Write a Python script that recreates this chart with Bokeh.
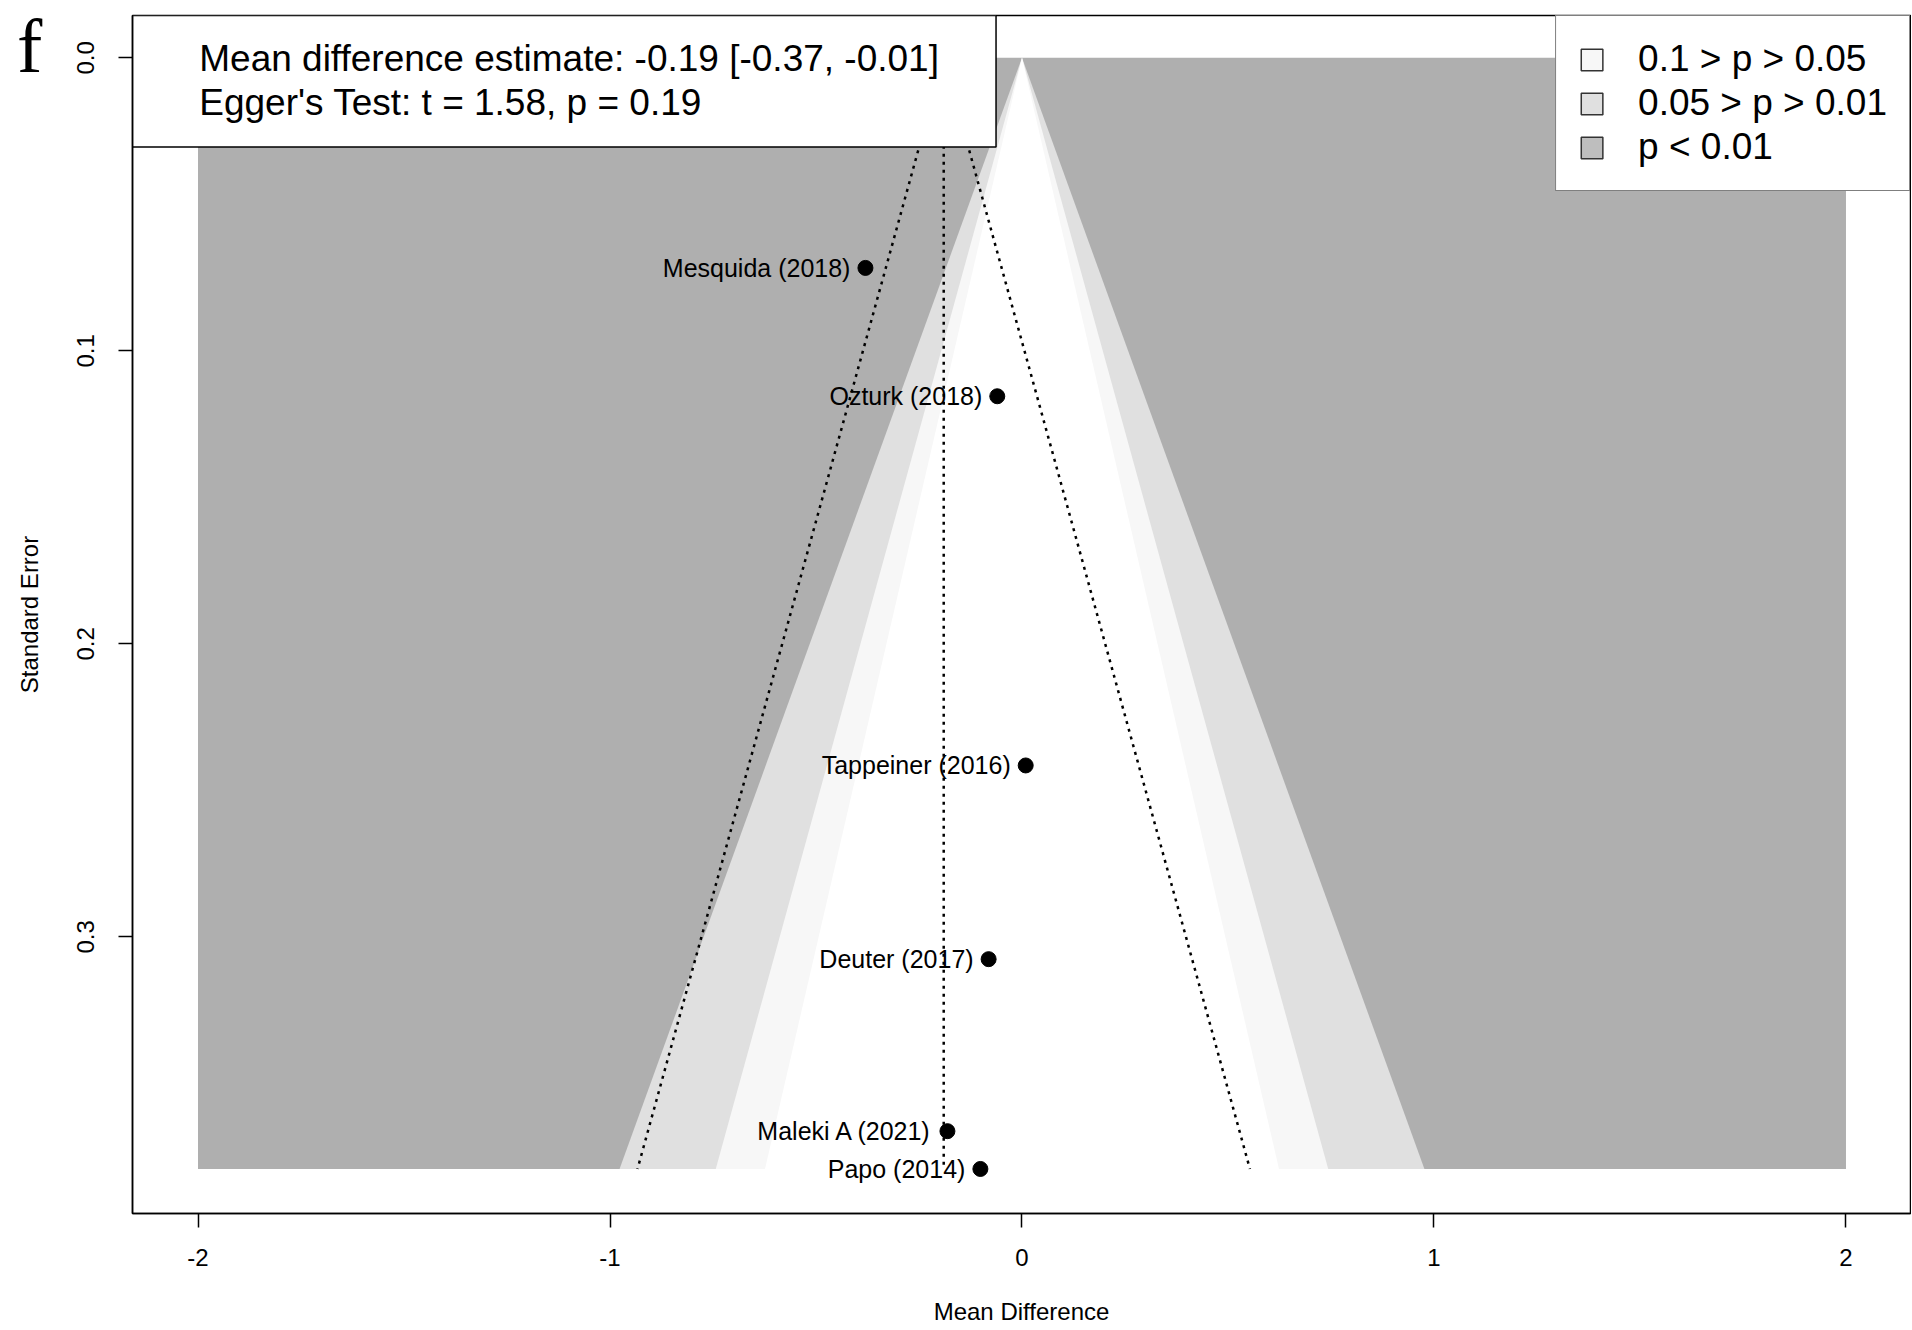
from bokeh.plotting import figure
from bokeh.models import (Range1d, FixedTicker, PrintfTickFormatter, Legend,
                          LegendItem, ColumnDataSource, Div)
from bokeh.layouts import column
from bokeh.core.properties import value
from bokeh.embed import file_html
from bokeh.resources import INLINE

# ---- data ----
studies = ["Mesquida (2018)", "Ozturk (2018)", "Tappeiner (2016)",
           "Deuter (2017)", "Maleki A (2021)", "Papo (2014)"]
mean_diff = [-0.380, -0.060, 0.009, -0.081, -0.181, -0.101]
std_err = [0.0717, 0.1155, 0.2415, 0.3076, 0.3663, 0.3792]

pooled_est = -0.19
contour_z = [2.576, 1.96, 1.645]           # p = 0.01, 0.05, 0.10
contour_fill = ["#E0E0E0", "#F7F7F7", "#FFFFFF"]
legend_labels = ["0.1 > p > 0.05", "0.05 > p > 0.01", "p < 0.01"]
legend_fill = ["#F7F7F7", "#E0E0E0", "#BEBEBE"]
x_ticks = [-2, -1, 0, 1, 2]
y_ticks = [0.0, 0.1, 0.2, 0.3]
info_lines = ["Mean difference estimate: -0.19 [-0.37, -0.01]",
              "Egger's Test: t = 1.58, p = 0.19"]
panel_letter = "f"

SANS = value("Liberation Sans")
se_max = max(std_err)
NAN = float("nan")

x0, x1 = -2.159, 2.1566
y_lo, y_hi = -0.01444, 0.3944

p = figure(width=1911, height=1330, output_backend="svg", toolbar_location=None,
           x_range=Range1d(x0, x1), y_range=Range1d(y_hi, y_lo),
           min_border_left=132, min_border_right=1, min_border_top=15,
           min_border_bottom=117)
p.xgrid.visible = False
p.ygrid.visible = False
p.outline_line_color = "black"
p.outline_line_width = 1.5
p.background_fill_color = "white"
p.border_fill_color = "white"

# axes
for ax in (p.xaxis[0], p.yaxis[0]):
    ax.major_tick_out = 14
    ax.major_tick_in = 0
    ax.minor_tick_out = 0
    ax.minor_tick_in = 0
    ax.major_tick_line_color = "black"
    ax.major_tick_line_width = 1.5
    ax.axis_line_color = "black"
    ax.axis_line_width = 1.5
    ax.major_label_text_font = "Liberation Sans"
    ax.major_label_text_font_size = "24px"
    ax.major_label_text_color = "black"
    ax.axis_label_text_font = "Liberation Sans"
    ax.axis_label_text_font_size = "24px"
    ax.axis_label_text_font_style = "normal"
    ax.axis_label_text_color = "black"

p.xaxis.ticker = FixedTicker(ticks=x_ticks)
p.xaxis.formatter = PrintfTickFormatter(format="%d")
p.xaxis.major_label_standoff = 21
p.xaxis.axis_label = "Mean Difference"
p.xaxis.axis_label_standoff = 29

p.yaxis.ticker = FixedTicker(ticks=y_ticks)
p.yaxis.formatter = PrintfTickFormatter(format="%.1f")
p.yaxis.major_label_orientation = "vertical"
p.yaxis.major_label_standoff = 24
p.yaxis.axis_label = "Standard Error"
p.yaxis.axis_label_standoff = 32

# contour-enhanced funnel regions
p.quad(left=[x_ticks[0]], right=[x_ticks[-1]], top=[0.0], bottom=[se_max],
       fill_color="#AFAFAF", line_color=None)
xs = [[0.0, -z * se_max, z * se_max] for z in contour_z]
ys = [[0.0, se_max, se_max] for _ in contour_z]
p.patches(xs=xs, ys=ys, fill_color=contour_fill, line_color=None)

# pseudo confidence funnel (dotted)
dot = dict(line_color="black", line_width=2.5, line_dash="3 5")
p.line([pooled_est, pooled_est], [0.0, se_max], **dot)
p.line([pooled_est, pooled_est - 1.96 * se_max], [0.0, se_max], **dot)
p.line([pooled_est, pooled_est + 1.96 * se_max], [0.0, se_max], **dot)

# studies
src = ColumnDataSource(dict(x=mean_diff, y=std_err, name=studies))
p.scatter("x", "y", source=src, size=15, fill_color="black", line_color="black")
p.text("x", "y", text="name", source=src, x_offset=-15, text_align="right",
       text_baseline="middle", text_font=SANS, text_font_size="25px",
       text_color="black")

# info box
p.quad(left=[x0], right=[-0.063], top=[y_lo], bottom=[0.0304],
       fill_color="white", line_color="black", line_width=1.5)
p.text(x=[-1.997, -1.997], y=[0.0004, 0.0154], text=info_lines,
       text_align="left", text_baseline="middle", text_font=SANS,
       text_font_size="37px", text_color="black")

# legend (swatch-only renderers, nothing drawn in the plot area)
items = []
for lab, col in zip(legend_labels, legend_fill):
    r = p.quad(left=[NAN], right=[NAN], top=[NAN], bottom=[NAN], fill_color=col,
               line_color="#333333", line_width=1.5)
    items.append(LegendItem(label=lab, renderers=[r]))
legend = Legend(items=items, location="top_right", margin=0, padding=22,
                spacing=2, label_height=42, glyph_height=27, glyph_width=27,
                label_standoff=33, label_text_font="Liberation Sans",
                label_text_font_size="37px", label_text_color="black",
                border_line_color="black", border_line_width=1.5,
                background_fill_color="white", background_fill_alpha=1.0)
p.add_layout(legend)

# panel letter in the top-left margin (outside the plot frame)
letter = Div(text='<span style="font-family: \'Liberation Serif\'; font-size: 76px; '
                  'line-height: 1; color: black;">' + panel_letter + '</span>',
             styles={"position": "absolute", "left": "12px", "top": "3px",
                     "z-index": "10"})

layout = column(p, letter)
open("out.html", "w").write(file_html(layout, INLINE))
